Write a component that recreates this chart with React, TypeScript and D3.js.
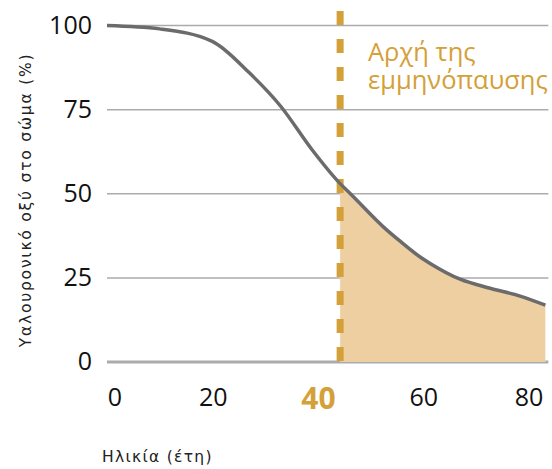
import React from "react";
import * as d3 from "d3";

const ages = [0, 10, 20, 27, 33, 39, 44.3, 46.2, 53.2, 55.7, 59.5, 61.4, 67.1, 72.8, 78.5, 83.3];
const hyaluronic = [100, 99, 95.3, 86, 76, 63, 53, 50.1, 39.2, 35.9, 31.2, 29.3, 24.6, 21.9, 19.6, 16.9];
const menopauseAge = 44.3;
const xTicks = [0, 20, 40, 60, 80];
const highlightTick = 40;
const yTicks = [0, 25, 50, 75, 100];
const yTitle = "Υαλουρονικό οξύ στο σώμα (%)";
const xTitle = "Ηλικία (έτη)";
const noteLines = ["Αρχή της", "εμμηνόπαυσης"];

const W = 552;
const H = 469;
const GOLD = "#D4A038";
const FILL = "#EDCFA1";
const LINE = "#6b6b6d";
const GRID = "#ababae";
const FONT = "'Open Sans', 'Noto Sans', sans-serif";
const TITLE_FONT = "'DejaVu Sans', 'Open Sans', sans-serif";

export default function App() {
  const x = d3.scaleLinear().domain([0, 80]).range([107, 528]);
  const y = d3.scaleLinear().domain([0, 100]).range([362, 25.5]);
  const data = ages.map((a, i) => ({ a, v: hyaluronic[i] }));

  const line = d3
    .line<{ a: number; v: number }>()
    .x((d) => x(d.a))
    .y((d) => y(d.v))
    .curve(d3.curveMonotoneX);

  const area = d3
    .area<{ a: number; v: number }>()
    .x((d) => x(d.a))
    .y0(y(0))
    .y1((d) => y(d.v))
    .curve(d3.curveMonotoneX);

  const areaData = data.filter((d) => d.a >= menopauseAge);
  const gridX0 = x(0);
  const gridX1 = x(ages[ages.length - 1]) + 3;
  const mx = x(menopauseAge);

  return (
    <svg
      width={W}
      height={H}
      style={{ position: "absolute", left: 0, top: 0, background: "#fff" }}
      fontFamily={FONT}
    >
      {yTicks.map((t) => (
        <line
          key={"g" + t}
          x1={gridX0}
          x2={gridX1}
          y1={y(t)}
          y2={y(t)}
          stroke={GRID}
          strokeWidth={t === 0 ? 3 : 1.5}
        />
      ))}
      <path d={area(areaData) || ""} fill={FILL} />
      <line
        x1={mx}
        x2={mx}
        y1={11}
        y2={365}
        stroke={GOLD}
        strokeWidth={7}
        strokeDasharray="14 14"
      />
      <path d={line(data) || ""} fill="none" stroke={LINE} strokeWidth={3.5} />
      {yTicks.map((t) => (
        <text
          key={"yl" + t}
          x={92}
          y={y(t) - 2}
          textAnchor="end"
          dominantBaseline="central"
          fontSize={25}
          fill="#111"
        >
          {t}
        </text>
      ))}
      {xTicks.map((t, i) => (
        <text
          key={"xl" + t}
          x={x(t) + (i === 0 ? 8 : 1)}
          y={t === highlightTick ? 409 : 406}
          textAnchor="middle"
          fontSize={t === highlightTick ? 30 : 25}
          fontWeight={t === highlightTick ? 700 : 400}
          fill={t === highlightTick ? GOLD : "#111"}
        >
          {t}
        </text>
      ))}
      <text
        transform={`translate(31, 200) rotate(-90)`}
        textAnchor="middle"
        fontFamily={TITLE_FONT}
        fontSize={15.5}
        letterSpacing={1.8}
        fill="#222"
      >
        {yTitle}
      </text>
      <text
        x={102}
        y={462}
        fontFamily={TITLE_FONT}
        fontSize={15.5}
        letterSpacing={1.3}
        fill="#222"
      >
        {xTitle}
      </text>
      <text x={368} y={61} fontSize={25.5} fill={GOLD}>
        {noteLines.map((s, i) => (
          <tspan key={s} x={368} dy={i === 0 ? 0 : 28}>
            {s}
          </tspan>
        ))}
      </text>
    </svg>
  );
}
